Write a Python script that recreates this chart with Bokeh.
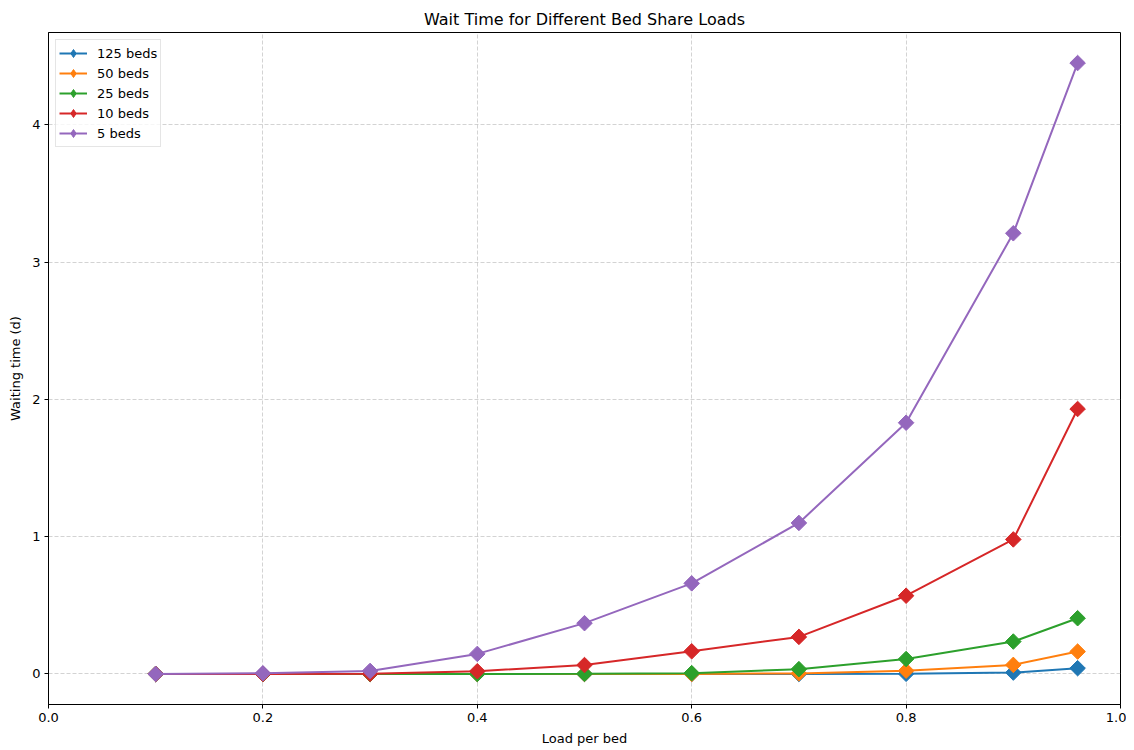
import math
from bokeh.plotting import figure
from bokeh.models import Range1d, FixedTicker, Legend, LegendItem
from bokeh.embed import file_html
from bokeh.resources import INLINE

load = [0.1, 0.2, 0.3, 0.4, 0.5, 0.6, 0.7, 0.8, 0.9, 0.96]
beds_labels = ["125 beds", "50 beds", "25 beds", "10 beds", "5 beds"]
wait_125 = [0.0, 0.0, 0.0, 0.0, 0.0, 0.0, 0.0, 0.001, 0.01, 0.042]
wait_50 = [0.0, 0.0, 0.0, 0.0, 0.0, 0.0, 0.004, 0.024, 0.066, 0.163]
wait_25 = [0.0, 0.0, 0.0, 0.0, 0.001, 0.006, 0.035, 0.109, 0.236, 0.406]
wait_10 = [0.0, 0.0, 0.001, 0.02, 0.065, 0.165, 0.27, 0.57, 0.98, 1.93]
wait_5 = [0.0, 0.005, 0.022, 0.146, 0.37, 0.66, 1.10, 1.83, 3.21, 4.45]
series = [wait_125, wait_50, wait_25, wait_10, wait_5]
colors = ["#1f77b4", "#ff7f0e", "#2ca02c", "#d62728", "#9467bd"]

FONT = "DejaVu Sans"

p = figure(width=1126, height=748, output_backend="svg", toolbar_location=None,
           x_range=Range1d(0.0, 1.0), y_range=Range1d(-0.2225, 4.6725),
           min_border_left=48, min_border_right=6, min_border_top=32, min_border_bottom=44)

p.title.text = "Wait Time for Different Bed Share Loads"
p.title.align = "center"
p.title.text_font = FONT
p.title.text_font_size = "16px"
p.title.text_font_style = "normal"
p.title.text_color = "black"
p.title.standoff = 8

items = []
for lab, ys, c in zip(beds_labels, series, colors):
    r1 = p.line(load, ys, line_color=c, line_width=2)
    p.scatter(load, ys, marker="square", angle=math.pi / 4, size=11,
              fill_color=c, line_color=c)
    # legend-only diamond glyph (no visible data point)
    r3 = p.scatter([float("nan")], [float("nan")], marker="diamond", size=12,
                   fill_color=c, line_color=c)
    items.append(LegendItem(label=lab, renderers=[r1, r3]))

legend = Legend(items=items, location="top_left")
legend.label_text_font = FONT
legend.label_text_font_size = "13px"
legend.label_text_color = "black"
legend.border_line_color = "#cccccc"
legend.border_line_width = 1
legend.background_fill_alpha = 0.8
legend.margin = 7
legend.padding = 3
legend.spacing = 0
legend.glyph_width = 28
legend.glyph_height = 20
legend.label_height = 20
legend.label_standoff = 10
p.add_layout(legend)

p.xaxis.ticker = FixedTicker(ticks=[0.0, 0.2, 0.4, 0.6, 0.8, 1.0])
p.xaxis.major_label_overrides = {0.0: "0.0", 0.2: "0.2", 0.4: "0.4", 0.6: "0.6", 0.8: "0.8", 1.0: "1.0"}
p.yaxis.ticker = FixedTicker(ticks=[0, 1, 2, 3, 4])

for ax in (p.xaxis[0], p.yaxis[0]):
    ax.axis_line_color = "black"
    ax.major_tick_line_color = "black"
    ax.major_tick_out = 4
    ax.major_tick_in = 0
    ax.minor_tick_line_color = None
    ax.major_label_text_font = FONT
    ax.major_label_text_font_size = "13px"
    ax.major_label_text_color = "black"
    ax.axis_label_text_font = FONT
    ax.axis_label_text_font_size = "13px"
    ax.axis_label_text_font_style = "normal"
    ax.axis_label_text_color = "black"
    ax.axis_label_standoff = 6
    ax.major_label_standoff = 4

p.xaxis.axis_label = "Load per bed"
p.yaxis.axis_label = "Waiting time (d)"

p.grid.grid_line_color = "#b0b0b0"
p.grid.grid_line_alpha = 0.7
p.grid.grid_line_dash = "4 2"
p.grid.grid_line_width = 0.8

p.outline_line_color = "black"
p.outline_line_width = 1
p.outline_line_alpha = 1

open("out.html", "w").write(file_html(p, INLINE))
